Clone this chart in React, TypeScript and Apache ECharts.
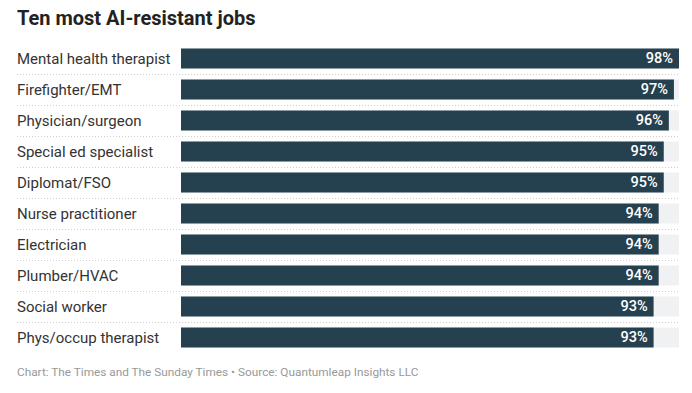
import React, { useEffect, useRef } from "react";
import * as echarts from "echarts";

const categories = [
  "Mental health therapist",
  "Firefighter/EMT",
  "Physician/surgeon",
  "Special ed specialist",
  "Diplomat/FSO",
  "Nurse practitioner",
  "Electrician",
  "Plumber/HVAC",
  "Social worker",
  "Phys/occup therapist",
];
const values = [98, 97, 96, 95, 95, 94, 94, 94, 93, 93];
const titleText = "Ten most AI-resistant jobs";
const footerText =
  "Chart: The Times and The Sunday Times \u2022 Source: Quantumleap Insights LLC";

export default function App() {
  const ref = useRef<HTMLDivElement>(null);
  useEffect(() => {
    document.body.style.margin = "0";
    const chart = echarts.init(ref.current!, null, { renderer: "svg" });
    const font = "Roboto, 'Noto Sans', sans-serif";
    chart.setOption({
      animation: false,
      textStyle: { fontFamily: font },
      title: [
        {
          text: titleText,
          left: 17,
          top: 8,
          padding: 0,
          textStyle: { fontSize: 20, fontWeight: "bold", color: "#222", fontFamily: font },
        },
        {
          text: footerText,
          left: 17,
          top: 366,
          padding: 0,
          textStyle: { fontSize: 11.8, fontWeight: "normal", color: "#999", fontFamily: font },
        },
      ],
      grid: [
        { left: 181, right: 13, top: 43, bottom: 40 },
        { left: 17, right: 13, top: 43, bottom: 40 },
      ],
      xAxis: [
        { type: "value", min: 0, max: 98, show: false, gridIndex: 0 },
        { type: "value", min: 0, max: 1, show: false, gridIndex: 1 },
      ],
      yAxis: [
        {
          type: "category",
          data: categories,
          inverse: true,
          gridIndex: 0,
          axisLine: { show: false },
          axisTick: { show: false },
          splitLine: { show: false },
          axisLabel: {
            align: "left",
            margin: 164,
            fontSize: 15,
            color: "#333",
            fontFamily: font,
          },
          z: 3,
        },
        {
          type: "category",
          data: categories,
          inverse: true,
          gridIndex: 1,
          axisLine: { show: false },
          axisTick: { show: false },
          axisLabel: { show: false },
          splitLine: {
            show: true,
            showMinLine: false,
            showMaxLine: false,
            lineStyle: { type: [1, 2], color: "#cfcfcf", width: 1 },
          },
        },
      ],
      series: [
        {
          type: "bar",
          xAxisIndex: 0,
          yAxisIndex: 0,
          data: values,
          barWidth: 20,
          itemStyle: { color: "#25404f" },
          showBackground: true,
          backgroundStyle: { color: "#f0f1f3" },
          label: {
            show: true,
            position: "insideRight",
            distance: 6,
            formatter: "{c}%",
            color: "#fff",
            fontSize: 14.5,
            fontWeight: 500,
            fontFamily: font,
          },
        },
      ],
    });
    return () => chart.dispose();
  }, []);
  return <div ref={ref} style={{ width: 692, height: 393 }} />;
}
